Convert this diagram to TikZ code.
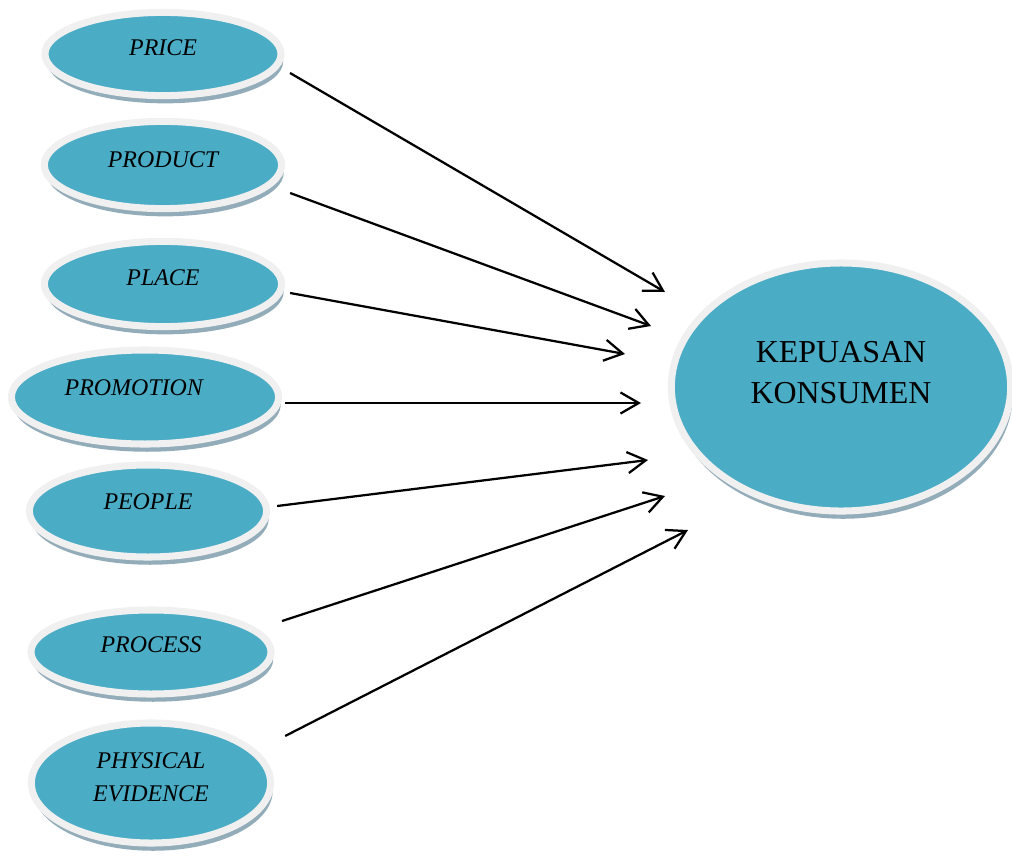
\documentclass[tikz,border=0pt]{standalone}
\usepackage{fontspec}
\setmainfont{Liberation Serif}
\usetikzlibrary{shapes.geometric,shadows,arrows.meta}
\definecolor{tealfill}{HTML}{4BACC6}
\definecolor{rimgray}{HTML}{F0F0F0}
\definecolor{shadowblue}{HTML}{93ACB9}
\begin{document}
\begin{tikzpicture}[x=0.025cm,y=-0.025cm]
            \tikzset{Factor/.style={%
                    shape=ellipse,%
                    fill=tealfill,%
                    draw=rimgray,%
                    line width=5pt,%
                    inner sep=0pt,%
                    align=center,%
                    font=\fontsize{17}{23}\selectfont\itshape,%
                    drop shadow={shadow xshift=1.5pt,shadow yshift=-5.5pt,fill=shadowblue,opacity=1},%
                }}
            \tikzset{Target/.style={%
                    Factor,%
                    font=\fontsize{22.7}{29.5}\selectfont,%
                }}
            \tikzset{Arrow/.style={%
                    -{Straight Barb[length=13pt,width=15pt]},%
                    line width=1.6pt,%
                }}
                \useasboundingbox (0,0) rectangle (1012,855);

                \node[Factor, minimum width=5.9cm, minimum height=2.08cm, text depth=8.5pt] (price) at (163,54) {PRICE};
                \node[Factor, minimum width=5.93cm, minimum height=2.18cm, text depth=7pt] (product) at (163,165) {PRODUCT};
                \node[Factor, minimum width=5.93cm, minimum height=2.13cm, text depth=8.5pt] (place) at (163,284) {PLACE};
                \node[Factor, minimum width=6.68cm, minimum height=2.35cm, text depth=14pt] (promotion) at (145,397) {PROMOTION\hspace{16pt}};
                \node[Factor, minimum width=5.93cm, minimum height=2.3cm, text depth=13pt] (people) at (148,511) {PEOPLE};
                \node[Factor, minimum width=6cm, minimum height=2.1cm, text depth=10pt] (process) at (151,652) {PROCESS};
                \node[Factor, minimum width=5.98cm, minimum height=3cm, text depth=8.5pt] (physical) at (151,783) {PHYSICAL\\EVIDENCE};
                \node[Target, minimum width=8.48cm, minimum height=6.2cm, text depth=21pt] (kepuasan) at (841,387) {KEPUASAN\\KONSUMEN};

                \coordinate (t1) at (665,292);
                \coordinate (t2) at (651,326);
                \coordinate (t3) at (625,354);
                \coordinate (t4) at (641,403);
                \coordinate (t5) at (648,460);
                \coordinate (t6) at (665,496);
                \coordinate (t7) at (688,530);

                \draw[Arrow] ([shift={(5.5,19)}]price.east) -- (t1);
                \draw[Arrow] ([shift={(5,28)}]product.east) -- (t2);
                \draw[Arrow] ([shift={(5,9)}]place.east) -- (t3);
                \draw[Arrow] ([shift={(3,6)}]promotion.east) -- (t4);
                \draw[Arrow] ([shift={(7,-5)}]people.east) -- (t5);
                \draw[Arrow] ([shift={(7.5,-31)}]process.east) -- (t6);
                \draw[Arrow] ([shift={(11,-47)}]physical.east) -- (t7);
        \end{tikzpicture}
\end{document}
